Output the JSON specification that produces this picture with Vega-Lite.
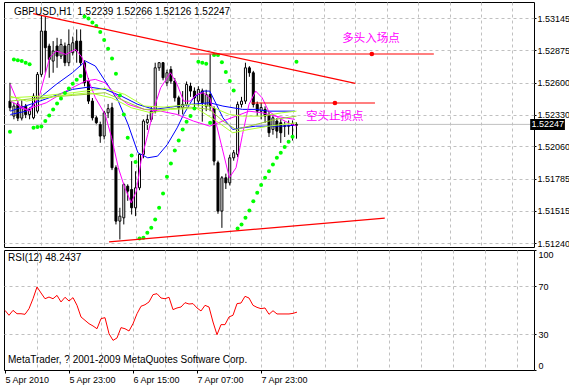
{
  "$schema": "https://vega.github.io/schema/vega-lite/v6.json",
  "background": "white",
  "padding": {"left": 2, "top": 1, "right": 0, "bottom": 0},
  "spacing": 0,
  "config": {
    "view": {"stroke": "black", "strokeWidth": 1},
    "axis": {"labelFont": "Liberation Sans", "labelFontSize": 9, "labelColor": "black", "tickColor": "black", "gridColor": "#c0c0c0", "gridDash": [3, 3], "domain": false, "labelOverlap": false},
    "text": {"font": "Liberation Sans", "fontSize": 10}
  },
  "datasets": {
    "candles": [
      {"bar":0,"o":1.52444,"h":1.52599,"l":1.52359,"c":1.52388},
      {"bar":1,"o":1.52317,"h":1.52430,"l":1.52290,"c":1.52402},
      {"bar":2,"o":1.52420,"h":1.52445,"l":1.52275,"c":1.52300},
      {"bar":3,"o":1.52300,"h":1.52450,"l":1.52280,"c":1.52400},
      {"bar":4,"o":1.52400,"h":1.52420,"l":1.52300,"c":1.52330},
      {"bar":5,"o":1.52330,"h":1.52390,"l":1.52290,"c":1.52370},
      {"bar":6,"o":1.52303,"h":1.52510,"l":1.52290,"c":1.52486},
      {"bar":7,"o":1.52359,"h":1.52690,"l":1.52340,"c":1.52670},
      {"bar":8,"o":1.52670,"h":1.53164,"l":1.52650,"c":1.53037},
      {"bar":9,"o":1.53037,"h":1.53164,"l":1.52684,"c":1.52896},
      {"bar":10,"o":1.52910,"h":1.52930,"l":1.52642,"c":1.52797},
      {"bar":11,"o":1.52783,"h":1.52952,"l":1.52684,"c":1.52868},
      {"bar":12,"o":1.52910,"h":1.52980,"l":1.52726,"c":1.52825},
      {"bar":13,"o":1.52825,"h":1.52970,"l":1.52800,"c":1.52924},
      {"bar":14,"o":1.52910,"h":1.52940,"l":1.52740,"c":1.52769},
      {"bar":15,"o":1.52769,"h":1.53051,"l":1.52740,"c":1.52924},
      {"bar":16,"o":1.52854,"h":1.52990,"l":1.52830,"c":1.52938},
      {"bar":17,"o":1.52952,"h":1.53051,"l":1.52769,"c":1.52868},
      {"bar":18,"o":1.52952,"h":1.53051,"l":1.52740,"c":1.52769},
      {"bar":19,"o":1.52769,"h":1.52790,"l":1.52570,"c":1.52599},
      {"bar":20,"o":1.52614,"h":1.52640,"l":1.52420,"c":1.52444},
      {"bar":21,"o":1.52444,"h":1.52470,"l":1.52280,"c":1.52303},
      {"bar":22,"o":1.52303,"h":1.52320,"l":1.52240,"c":1.52261},
      {"bar":23,"o":1.52246,"h":1.52270,"l":1.52091,"c":1.52148},
      {"bar":24,"o":1.52148,"h":1.52360,"l":1.52120,"c":1.52345},
      {"bar":25,"o":1.52345,"h":1.52420,"l":1.52300,"c":1.52380},
      {"bar":26,"o":1.52388,"h":1.52430,"l":1.51860,"c":1.51880},
      {"bar":27,"o":1.51880,"h":1.51900,"l":1.51400,"c":1.51428},
      {"bar":28,"o":1.51428,"h":1.51541,"l":1.51273,"c":1.51470},
      {"bar":29,"o":1.51456,"h":1.51752,"l":1.51400,"c":1.51738},
      {"bar":30,"o":1.51724,"h":1.51740,"l":1.51600,"c":1.51682},
      {"bar":31,"o":1.51696,"h":1.51936,"l":1.51484,"c":1.51541},
      {"bar":32,"o":1.51541,"h":1.51850,"l":1.51470,"c":1.51710},
      {"bar":33,"o":1.51710,"h":1.52000,"l":1.51690,"c":1.51993},
      {"bar":34,"o":1.51993,"h":1.52290,"l":1.51960,"c":1.52275},
      {"bar":35,"o":1.52261,"h":1.52330,"l":1.52200,"c":1.52289},
      {"bar":36,"o":1.52289,"h":1.52400,"l":1.52270,"c":1.52359},
      {"bar":37,"o":1.52359,"h":1.52769,"l":1.52340,"c":1.52726},
      {"bar":38,"o":1.52726,"h":1.52775,"l":1.52700,"c":1.52769},
      {"bar":39,"o":1.52769,"h":1.52775,"l":1.52620,"c":1.52642},
      {"bar":40,"o":1.52599,"h":1.52710,"l":1.52570,"c":1.52684},
      {"bar":41,"o":1.52712,"h":1.52740,"l":1.52590,"c":1.52614},
      {"bar":42,"o":1.52614,"h":1.52640,"l":1.52440,"c":1.52472},
      {"bar":43,"o":1.52472,"h":1.52490,"l":1.52330,"c":1.52388},
      {"bar":44,"o":1.52388,"h":1.52529,"l":1.52331,"c":1.52416},
      {"bar":45,"o":1.52416,"h":1.52610,"l":1.52400,"c":1.52585},
      {"bar":46,"o":1.52571,"h":1.52600,"l":1.52480,"c":1.52529},
      {"bar":47,"o":1.52529,"h":1.52560,"l":1.52380,"c":1.52470},
      {"bar":48,"o":1.52444,"h":1.52570,"l":1.52400,"c":1.52543},
      {"bar":49,"o":1.52530,"h":1.52550,"l":1.52270,"c":1.52430},
      {"bar":50,"o":1.52400,"h":1.52540,"l":1.52359,"c":1.52500},
      {"bar":51,"o":1.52500,"h":1.52840,"l":1.52359,"c":1.52400},
      {"bar":52,"o":1.52380,"h":1.52400,"l":1.51900,"c":1.51936},
      {"bar":53,"o":1.51922,"h":1.51940,"l":1.51490,"c":1.51513},
      {"bar":54,"o":1.51513,"h":1.51810,"l":1.51371,"c":1.51795},
      {"bar":55,"o":1.51795,"h":1.51830,"l":1.51700,"c":1.51752},
      {"bar":56,"o":1.51752,"h":1.51990,"l":1.51730,"c":1.51964},
      {"bar":57,"o":1.51964,"h":1.52030,"l":1.51940,"c":1.52007},
      {"bar":58,"o":1.51993,"h":1.52440,"l":1.51970,"c":1.52416},
      {"bar":59,"o":1.52416,"h":1.52480,"l":1.52390,"c":1.52444},
      {"bar":60,"o":1.52444,"h":1.52769,"l":1.52420,"c":1.52726},
      {"bar":61,"o":1.52726,"h":1.52740,"l":1.52650,"c":1.52684},
      {"bar":62,"o":1.52684,"h":1.52700,"l":1.52390,"c":1.52416},
      {"bar":63,"o":1.52416,"h":1.52440,"l":1.52320,"c":1.52359},
      {"bar":64,"o":1.52359,"h":1.52430,"l":1.52290,"c":1.52390},
      {"bar":65,"o":1.52374,"h":1.52400,"l":1.52260,"c":1.52317},
      {"bar":66,"o":1.52331,"h":1.52360,"l":1.52140,"c":1.52176},
      {"bar":67,"o":1.52204,"h":1.52330,"l":1.52160,"c":1.52303},
      {"bar":68,"o":1.52275,"h":1.52300,"l":1.52130,"c":1.52190},
      {"bar":69,"o":1.52261,"h":1.52290,"l":1.52090,"c":1.52176},
      {"bar":70,"o":1.52230,"h":1.52270,"l":1.52140,"c":1.52236},
      {"bar":71,"o":1.52236,"h":1.52280,"l":1.52160,"c":1.52232},
      {"bar":72,"o":1.52250,"h":1.52280,"l":1.52110,"c":1.52239},
      {"bar":73,"o":1.52239,"h":1.52266,"l":1.52126,"c":1.52247}
    ],
    "sar": [
      {"bar":0,"p":1.52184},{"bar":1,"p":1.52797},{"bar":2,"p":1.52789},{"bar":3,"p":1.52783},{"bar":4,"p":1.52769},{"bar":5,"p":1.52755},
      {"bar":6,"p":1.52218},{"bar":7,"p":1.52224},{"bar":8,"p":1.52230},{"bar":9,"p":1.52275},{"bar":10,"p":1.52323},{"bar":11,"p":1.52373},
      {"bar":12,"p":1.52424},{"bar":13,"p":1.52467},{"bar":14,"p":1.52512},{"bar":15,"p":1.52551},{"bar":16,"p":1.52591},{"bar":17,"p":1.52625},
      {"bar":18,"p":1.52656},{"bar":19,"p":1.53161},{"bar":20,"p":1.53144},{"bar":21,"p":1.53110},{"bar":22,"p":1.53079},{"bar":23,"p":1.53028},
      {"bar":24,"p":1.52961},{"bar":25,"p":1.52887},{"bar":26,"p":1.52805},{"bar":27,"p":1.52676},{"bar":28,"p":1.52492},{"bar":29,"p":1.52331},
      {"bar":30,"p":1.52134},{"bar":31,"p":1.51984},{"bar":32,"p":1.51928},{"bar":33,"p":1.51281},{"bar":34,"p":1.51287},{"bar":35,"p":1.51329},
      {"bar":36,"p":1.51371},{"bar":37,"p":1.51442},{"bar":38,"p":1.51541},{"bar":39,"p":1.51662},{"bar":40,"p":1.51803},{"bar":41,"p":1.51916},
      {"bar":42,"p":1.52026},{"bar":43,"p":1.52111},{"bar":44,"p":1.52204},{"bar":45,"p":1.52269},{"bar":46,"p":1.52317},{"bar":47,"p":1.52382},
      {"bar":48,"p":1.52777},{"bar":49,"p":1.52769},{"bar":50,"p":1.52760},{"bar":51,"p":1.52261},{"bar":52,"p":1.52834},{"bar":53,"p":1.52834},
      {"bar":54,"p":1.52774},{"bar":55,"p":1.52690},{"bar":56,"p":1.52614},{"bar":57,"p":1.52534},{"bar":58,"p":1.51366},{"bar":59,"p":1.51400},
      {"bar":60,"p":1.51456},{"bar":61,"p":1.51518},{"bar":62,"p":1.51597},{"bar":63,"p":1.51668},{"bar":64,"p":1.51733},{"bar":65,"p":1.51795},
      {"bar":66,"p":1.51851},{"bar":67,"p":1.51908},{"bar":68,"p":1.51964},{"bar":69,"p":1.52007},{"bar":70,"p":1.52055},{"bar":71,"p":1.52100},
      {"bar":72,"p":1.52142},{"bar":73,"p":1.52777}
    ],
    "lines": [
      {"s":"blueA","bar":0.1,"p":1.52331},{"s":"blueA","bar":4.25,"p":1.52359},{"s":"blueA","bar":7.6,"p":1.52472},{"s":"blueA","bar":11.75,"p":1.52585},
      {"s":"blueA","bar":15.9,"p":1.52684},{"s":"blueA","bar":19.25,"p":1.52783},{"s":"blueA","bar":21.75,"p":1.52741},{"s":"blueA","bar":24.25,"p":1.52614},
      {"s":"blueA","bar":27.6,"p":1.52444},{"s":"blueA","bar":30.1,"p":1.52246},{"s":"blueA","bar":32.6,"p":1.52007},{"s":"blueA","bar":35.1,"p":1.51964},
      {"s":"blueA","bar":37.6,"p":1.51978},{"s":"blueA","bar":40.1,"p":1.52077},{"s":"blueA","bar":42.6,"p":1.52218},{"s":"blueA","bar":44.25,"p":1.52331},
      {"s":"blueA","bar":46.75,"p":1.52472},{"s":"blueA","bar":49.25,"p":1.52529},{"s":"blueA","bar":50.9,"p":1.52529},{"s":"blueA","bar":52.6,"p":1.52416},
      {"s":"blueA","bar":54.25,"p":1.52303},{"s":"blueA","bar":56.75,"p":1.52204},{"s":"blueA","bar":59.25,"p":1.52218},{"s":"blueA","bar":62.6,"p":1.52232},
      {"s":"blueA","bar":65.9,"p":1.52232},{"s":"blueA","bar":69.25,"p":1.52232},{"s":"blueA","bar":72.6,"p":1.52239},
      {"s":"blueB","bar":0.1,"p":1.52359},{"s":"blueB","bar":7.6,"p":1.52444},{"s":"blueB","bar":15.9,"p":1.52543},{"s":"blueB","bar":20.1,"p":1.52563},
      {"s":"blueB","bar":24.25,"p":1.52543},{"s":"blueB","bar":28.4,"p":1.52486},{"s":"blueB","bar":32.6,"p":1.52416},{"s":"blueB","bar":36.75,"p":1.52374},
      {"s":"blueB","bar":40.9,"p":1.52393},{"s":"blueB","bar":45.9,"p":1.52416},{"s":"blueB","bar":50.9,"p":1.52430},{"s":"blueB","bar":54.25,"p":1.52402},
      {"s":"blueB","bar":59.25,"p":1.52374},{"s":"blueB","bar":62.6,"p":1.52374},{"s":"blueB","bar":65.9,"p":1.52359},{"s":"blueB","bar":72.6,"p":1.52359},
      {"s":"magA","bar":0.1,"p":1.52585},{"s":"magA","bar":2.6,"p":1.52388},{"s":"magA","bar":5.1,"p":1.52359},{"s":"magA","bar":7.6,"p":1.52501},
      {"s":"magA","bar":10.1,"p":1.52811},{"s":"magA","bar":11.75,"p":1.52868},{"s":"magA","bar":14.25,"p":1.52839},{"s":"magA","bar":16.75,"p":1.52882},
      {"s":"magA","bar":18.4,"p":1.52811},{"s":"magA","bar":20.1,"p":1.52614},{"s":"magA","bar":21.75,"p":1.52472},{"s":"magA","bar":24.25,"p":1.52331},
      {"s":"magA","bar":25.9,"p":1.52134},{"s":"magA","bar":27.6,"p":1.51880},{"s":"magA","bar":29.25,"p":1.51710},{"s":"magA","bar":30.9,"p":1.51583},
      {"s":"magA","bar":32.2,"p":1.51682},{"s":"magA","bar":33.4,"p":1.51936},{"s":"magA","bar":35.1,"p":1.52162},{"s":"magA","bar":36.75,"p":1.52388},
      {"s":"magA","bar":38.4,"p":1.52557},{"s":"magA","bar":40.9,"p":1.52684},{"s":"magA","bar":42.6,"p":1.52585},{"s":"magA","bar":44.25,"p":1.52444},
      {"s":"magA","bar":45.9,"p":1.52444},{"s":"magA","bar":47.6,"p":1.52501},{"s":"magA","bar":49.25,"p":1.52515},{"s":"magA","bar":50.9,"p":1.52472},
      {"s":"magA","bar":52.6,"p":1.52246},{"s":"magA","bar":54.25,"p":1.52021},{"s":"magA","bar":55.9,"p":1.51795},{"s":"magA","bar":57.6,"p":1.51880},
      {"s":"magA","bar":59.25,"p":1.52162},{"s":"magA","bar":60.9,"p":1.52416},{"s":"magA","bar":62.6,"p":1.52529},{"s":"magA","bar":64.25,"p":1.52472},
      {"s":"magA","bar":65.9,"p":1.52359},{"s":"magA","bar":68.4,"p":1.52303},{"s":"magA","bar":70.9,"p":1.52261},{"s":"magA","bar":73,"p":1.52232},
      {"s":"magB","bar":0.1,"p":1.52444},{"s":"magB","bar":4.25,"p":1.52374},{"s":"magB","bar":9.25,"p":1.52430},{"s":"magB","bar":14.25,"p":1.52529},
      {"s":"magB","bar":19.25,"p":1.52614},{"s":"magB","bar":21.75,"p":1.52628},{"s":"magB","bar":24.25,"p":1.52599},{"s":"magB","bar":26.75,"p":1.52501},
      {"s":"magB","bar":30.1,"p":1.52416},{"s":"magB","bar":34.25,"p":1.52374},{"s":"magB","bar":38.4,"p":1.52359},{"s":"magB","bar":42.6,"p":1.52331},
      {"s":"magB","bar":46.75,"p":1.52275},{"s":"magB","bar":50.9,"p":1.52232},{"s":"magB","bar":54.25,"p":1.52275},{"s":"magB","bar":57.6,"p":1.52317},
      {"s":"magB","bar":60.9,"p":1.52359},{"s":"magB","bar":64.25,"p":1.52345},{"s":"magB","bar":67.6,"p":1.52317},{"s":"magB","bar":72.6,"p":1.52289},
      {"s":"lime1","bar":0.1,"p":1.52472},{"s":"lime1","bar":7.6,"p":1.52486},{"s":"lime1","bar":15.9,"p":1.52515},{"s":"lime1","bar":24.25,"p":1.52551},
      {"s":"lime1","bar":29.25,"p":1.52501},{"s":"lime1","bar":34.25,"p":1.52402},{"s":"lime1","bar":39.25,"p":1.52393},{"s":"lime1","bar":45.9,"p":1.52416},
      {"s":"lime1","bar":50.9,"p":1.52402},{"s":"lime1","bar":55.9,"p":1.52331},{"s":"lime1","bar":59.25,"p":1.52317},{"s":"lime1","bar":64.25,"p":1.52317},
      {"s":"lime1","bar":69.25,"p":1.52345},{"s":"lime1","bar":73,"p":1.52359},
      {"s":"lime2","bar":0.1,"p":1.52444},{"s":"lime2","bar":7.6,"p":1.52472},{"s":"lime2","bar":15.9,"p":1.52492},{"s":"lime2","bar":24.25,"p":1.52515},
      {"s":"lime2","bar":29.25,"p":1.52444},{"s":"lime2","bar":34.25,"p":1.52374},{"s":"lime2","bar":39.25,"p":1.52374},{"s":"lime2","bar":45.9,"p":1.52393},
      {"s":"lime2","bar":50.9,"p":1.52374},{"s":"lime2","bar":54.25,"p":1.52275},{"s":"lime2","bar":57.6,"p":1.52204},{"s":"lime2","bar":62.6,"p":1.52246},
      {"s":"lime2","bar":67.6,"p":1.52289},{"s":"lime2","bar":73,"p":1.52317},
      {"s":"lime3","bar":0.1,"p":1.52486},{"s":"lime3","bar":4.25,"p":1.52444},{"s":"lime3","bar":11.75,"p":1.52486},{"s":"lime3","bar":20.1,"p":1.52515},
      {"s":"lime3","bar":25.9,"p":1.52472},{"s":"lime3","bar":30.9,"p":1.52388},{"s":"lime3","bar":35.9,"p":1.52345},{"s":"lime3","bar":40.9,"p":1.52374},
      {"s":"lime3","bar":47.6,"p":1.52382},{"s":"lime3","bar":52.6,"p":1.52275},{"s":"lime3","bar":56.75,"p":1.52176},{"s":"lime3","bar":60.9,"p":1.52204},
      {"s":"lime3","bar":65.9,"p":1.52232},{"s":"lime3","bar":73,"p":1.52261}
    ],
    "trend": [
      {"id":"up","bar":5.9,"p":1.53184},{"id":"up","bar":88,"p":1.52594},
      {"id":"low","bar":25.25,"p":1.51253},{"id":"low","bar":95.5,"p":1.51453},
      {"id":"h1","bar":45.9,"p":1.52843},{"id":"h1","bar":108,"p":1.52843},
      {"id":"h2","bar":61.5,"p":1.52428},{"id":"h2","bar":93,"p":1.52428}
    ],
    "marks": [{"bar":92.2,"p":1.52843},{"bar":82.8,"p":1.52428}],
    "notes": [
      {"t":"多头入场点","bar":92,"p":1.52970},
      {"t":"空头止损点","bar":82.75,"p":1.52309}
    ],
    "info": [{"t":"GBPUSD,H1\u00a0\u00a01.52239 1.52266 1.52126 1.52247","bar":1,"p":1.53198}],
    "last": [{"t":"1.52247","p":1.52247}],
    "rsi": [
      {"bar":0,"v":49.7},{"bar":1,"v":45.6},{"bar":2,"v":49.7},{"bar":3,"v":46.9},{"bar":4,"v":46.9},{"bar":5,"v":46.4},
      {"bar":6,"v":51.1},{"bar":7,"v":59.4},{"bar":8,"v":69.2},{"bar":9,"v":64.2},{"bar":10,"v":59.4},{"bar":11,"v":60.8},
      {"bar":12,"v":59.4},{"bar":13,"v":62.2},{"bar":14,"v":56.7},{"bar":15,"v":60.6},{"bar":16,"v":57.5},{"bar":17,"v":60.3},
      {"bar":18,"v":53.9},{"bar":19,"v":44.2},{"bar":20,"v":41.4},{"bar":21,"v":38.6},{"bar":22,"v":36.7},{"bar":23,"v":34.4},
      {"bar":24,"v":42.8},{"bar":25,"v":43.6},{"bar":26,"v":30.3},{"bar":27,"v":24.7},{"bar":28,"v":26.7},{"bar":29,"v":35.3},
      {"bar":30,"v":34.4},{"bar":31,"v":32.5},{"bar":32,"v":38.6},{"bar":33,"v":46.9},{"bar":34,"v":53.1},{"bar":35,"v":54.4},
      {"bar":36,"v":56.7},{"bar":37,"v":62.8},{"bar":38,"v":63.6},{"bar":39,"v":60.0},{"bar":40,"v":59.4},{"bar":41,"v":60.6},
      {"bar":42,"v":50.3},{"bar":43,"v":51.7},{"bar":44,"v":52.5},{"bar":45,"v":56.1},{"bar":46,"v":55.0},{"bar":47,"v":55.3},
      {"bar":48,"v":51.7},{"bar":49,"v":49.2},{"bar":50,"v":53.9},{"bar":51,"v":52.5},{"bar":52,"v":40.0},{"bar":53,"v":29.4},
      {"bar":54,"v":37.8},{"bar":55,"v":37.8},{"bar":56,"v":44.2},{"bar":57,"v":45.6},{"bar":58,"v":55.3},{"bar":59,"v":55.8},
      {"bar":60,"v":61.4},{"bar":61,"v":60.0},{"bar":62,"v":53.9},{"bar":63,"v":52.2},{"bar":64,"v":51.1},{"bar":65,"v":51.7},
      {"bar":66,"v":46.4},{"bar":67,"v":49.4},{"bar":68,"v":46.7},{"bar":69,"v":46.7},{"bar":70,"v":46.7},{"bar":71,"v":46.7},
      {"bar":72,"v":47.2},{"bar":73,"v":48.24}
    ],
    "rsitext": [
      {"t":"RSI(12) 48.2437","bar":0.75,"v":93.3},
      {"t":"MetaTrader, ? 2001-2009 MetaQuotes Software Corp.","bar":0.75,"v":8.3}
    ]
  },
  "vconcat": [
    {
      "width": 530,
      "height": 245,
      "layer": [
        {
          "data": {"name": "candles"},
          "mark": {"type": "rule", "color": "black", "strokeWidth": 1},
          "encoding": {
            "x": {"field": "bar", "type": "quantitative", "title": null, "scale": {"domain": [-0.25, 132.25], "nice": false, "zero": false},
              "axis": {"values": [8,16,24,32,40,48,56,64,72,80,88,96,104,112,120,128], "tickCount": 100, "labels": false, "ticks": false, "grid": true, "title": null}},
            "y": {"field": "l", "type": "quantitative", "title": null, "scale": {"domain": [1.51209, 1.53283], "nice": false, "zero": false},
              "axis": {"orient": "right", "values": [1.53145, 1.52875, 1.526, 1.5233, 1.5206, 1.51785, 1.51515, 1.5124], "tickCount": 100, "format": ".5f", "grid": true, "tickSize": 2, "labelPadding": 1, "labelOverlap": false, "labelBound": false, "title": null}},
            "y2": {"field": "h"}
          }
        },
        {
          "data": {"name": "last"},
          "mark": {"type": "rule", "color": "#c0c0c0", "strokeWidth": 1},
          "encoding": {
            "y": {"field": "p", "type": "quantitative", "title": null}
          }
        },
        {
          "data": {"name": "candles"},
          "mark": {"type": "bar", "width": 2, "stroke": "black", "strokeWidth": 1},
          "encoding": {
            "x": {"field": "bar", "type": "quantitative", "title": null},
            "y": {"field": "o", "type": "quantitative", "title": null},
            "y2": {"field": "c"},
            "fill": {"condition": {"test": "datum.c >= datum.o", "value": "white"}, "value": "black"}
          }
        },
        {
          "data": {"name": "lines"},
          "mark": {"type": "line", "strokeWidth": 1},
          "encoding": {
            "x": {"field": "bar", "type": "quantitative", "title": null},
            "y": {"field": "p", "type": "quantitative", "title": null},
            "color": {"field": "s", "type": "nominal", "legend": null,
              "scale": {"domain": ["lime1","lime2","lime3","blueB","blueA","magB","magA"], "range": ["#ADFF2F","#9ACD32","#ADFF2F","#0000FF","#0000FF","#FF00FF","#FF00FF"]}}
          }
        },
        {
          "data": {"name": "sar"},
          "mark": {"type": "point", "shape": "circle", "filled": true, "size": 16, "color": "#00FF00", "opacity": 1},
          "encoding": {
            "x": {"field": "bar", "type": "quantitative", "title": null},
            "y": {"field": "p", "type": "quantitative", "title": null}
          }
        },
        {
          "data": {"name": "trend"},
          "mark": {"type": "line", "color": "#FF0000", "strokeWidth": 1.2, "clip": true},
          "encoding": {
            "x": {"field": "bar", "type": "quantitative", "title": null},
            "y": {"field": "p", "type": "quantitative", "title": null},
            "detail": {"field": "id"}
          }
        },
        {
          "data": {"name": "marks"},
          "mark": {"type": "point", "shape": "circle", "filled": true, "size": 22, "color": "#FF0000", "opacity": 1},
          "encoding": {
            "x": {"field": "bar", "type": "quantitative", "title": null},
            "y": {"field": "p", "type": "quantitative", "title": null}
          }
        },
        {
          "data": {"name": "notes"},
          "mark": {"type": "text", "color": "#FF00FF", "font": "Noto Sans CJK SC", "fontSize": 11.5, "align": "center", "baseline": "middle"},
          "encoding": {
            "x": {"field": "bar", "type": "quantitative", "title": null},
            "y": {"field": "p", "type": "quantitative", "title": null},
            "text": {"field": "t"}
          }
        },
        {
          "data": {"name": "info"},
          "mark": {"type": "text", "color": "black", "align": "left", "baseline": "middle"},
          "encoding": {
            "x": {"field": "bar", "type": "quantitative", "title": null},
            "y": {"field": "p", "type": "quantitative", "title": null},
            "text": {"field": "t"}
          }
        },
        {
          "data": {"name": "last"},
          "mark": {"type": "rule", "color": "black", "strokeWidth": 11, "clip": false},
          "encoding": {
            "x": {"datum": 132.55, "type": "quantitative", "title": null},
            "x2": {"datum": 141.4},
            "y": {"field": "p", "type": "quantitative", "title": null}
          }
        },
        {
          "data": {"name": "last"},
          "mark": {"type": "text", "color": "white", "align": "left", "baseline": "middle", "clip": false, "fontSize": 9},
          "encoding": {
            "x": {"datum": 132.9, "type": "quantitative", "title": null},
            "y": {"field": "p", "type": "quantitative", "title": null},
            "text": {"field": "t"}
          }
        }
      ]
    },
    {
      "width": 530,
      "height": 120,
      "layer": [
        {
          "data": {"name": "rsi"},
          "mark": {"type": "line", "color": "#FF0000", "strokeWidth": 1},
          "encoding": {
            "x": {"field": "bar", "type": "quantitative", "title": null, "scale": {"domain": [-0.25, 132.25], "nice": false, "zero": false},
              "axis": {"values": [0,8,16,24,32,40,48,56,64,72,80,88,96,104,112,120,128], "tickCount": 100, "grid": true, "title": null, "labelFlush": false, "labelOverlap": false,
                "labelAlign": "left", "labelBaseline": "top", "labelPadding": 2, "tickSize": 3,
                "labelExpr": "datum.value == 0 ? '5 Apr 2010' : datum.value == 16 ? '5 Apr 23:00' : datum.value == 32 ? '6 Apr 15:00' : datum.value == 48 ? '7 Apr 07:00' : datum.value == 64 ? '7 Apr 23:00' : ''",
                "gridColor": {"condition": {"test": "datum.value == 0", "value": "transparent"}, "value": "#c0c0c0"},
                "tickColor": {"condition": {"test": "datum.value % 16 == 0 && datum.value <= 64", "value": "black"}, "value": "transparent"}}},
            "y": {"field": "v", "type": "quantitative", "title": null, "scale": {"domain": [0, 100], "nice": false, "zero": false},
              "axis": {"orient": "right", "values": [0, 30, 70, 100], "tickCount": 100, "grid": true, "title": null, "labelFlush": true, "labelOverlap": false, "tickSize": 2, "labelPadding": 2,
                "gridColor": {"condition": {"test": "datum.value == 30 || datum.value == 70", "value": "#c0c0c0"}, "value": "transparent"}}}
          }
        },
        {
          "data": {"name": "rsitext"},
          "mark": {"type": "text", "color": "black", "align": "left", "baseline": "middle"},
          "encoding": {
            "x": {"field": "bar", "type": "quantitative", "title": null},
            "y": {"field": "v", "type": "quantitative", "title": null},
            "text": {"field": "t"}
          }
        }
      ]
    }
  ]
}
